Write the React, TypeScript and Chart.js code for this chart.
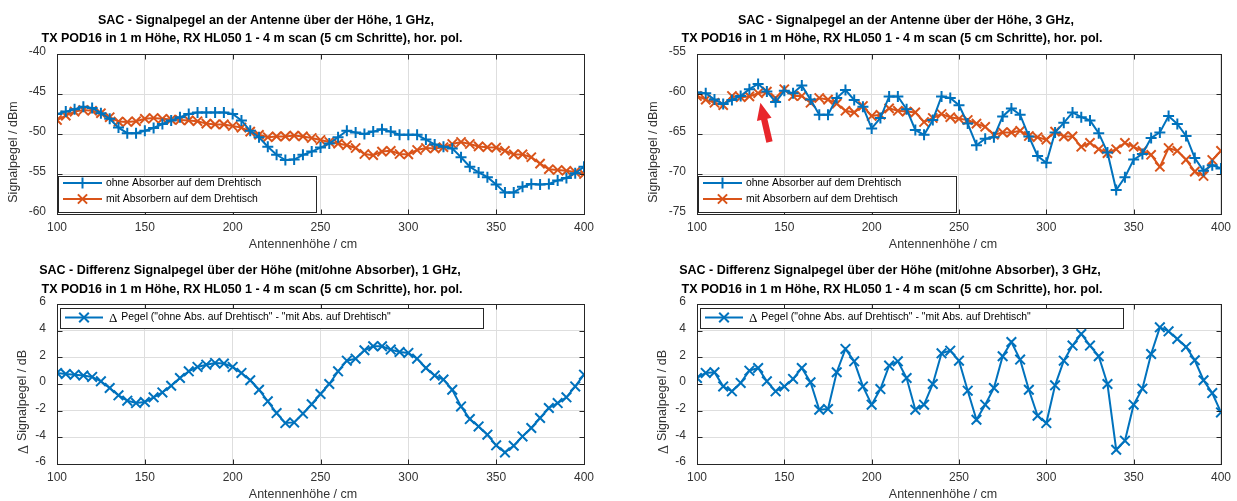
import React, { useEffect, useRef } from 'react';
import { Chart, registerables } from 'chart.js';

Chart.register(...registerables);

// ---------- data ----------
const heights = [100, 105, 110, 115, 120, 125, 130, 135, 140, 145, 150, 155, 160, 165, 170, 175, 180, 185, 190, 195, 200, 205, 210, 215, 220, 225, 230, 235, 240, 245, 250, 255, 260, 265, 270, 275, 280, 285, 290, 295, 300, 305, 310, 315, 320, 325, 330, 335, 340, 345, 350, 355, 360, 365, 370, 375, 380, 385, 390, 395, 400];

const ohne1GHz = [-47.5, -47.2, -46.9, -46.6, -46.75, -47.4, -48.1, -49.2, -49.9, -49.9, -49.6, -49.25, -48.75, -48.3, -47.9, -47.5, -47.3, -47.3, -47.3, -47.3, -47.5, -48.3, -49.6, -50.4, -51.6, -52.6, -53.25, -53.2, -52.6, -52.2, -51.7, -51.2, -50.4, -49.6, -49.8, -50.0, -49.7, -49.4, -49.7, -50.1, -50.1, -50.1, -50.7, -51.3, -51.6, -51.8, -52.9, -54.1, -54.8, -55.4, -56.3, -57.3, -57.3, -56.6, -56.25, -56.3, -56.25, -55.8, -55.5, -54.9, -54.1];

const mit1GHz = [-48.25, -47.7, -47.2, -47.0, -47.1, -47.4, -47.9, -48.45, -48.5, -48.4, -48.1, -48.0, -48.1, -48.2, -48.25, -48.3, -48.4, -48.7, -48.8, -48.8, -49.0, -49.2, -49.7, -50.1, -50.4, -50.3, -50.3, -50.2, -50.3, -50.5, -50.75, -51.0, -51.2, -51.4, -51.75, -52.5, -52.65, -52.2, -52.1, -52.5, -52.55, -52.0, -51.75, -51.8, -51.65, -51.25, -51.0, -51.25, -51.55, -51.65, -51.7, -52.1, -52.55, -52.55, -52.9, -53.7, -54.4, -54.5, -54.6, -54.75, -55.0];

const ohne3GHz = [-59.8, -59.9, -60.7, -61.25, -60.75, -60.25, -59.4, -58.75, -59.7, -61.0, -59.6, -59.9, -58.95, -60.7, -62.6, -62.6, -60.5, -59.5, -60.75, -61.6, -64.3, -63.0, -60.3, -60.3, -61.9, -64.5, -65.1, -63.25, -60.3, -60.5, -61.4, -63.7, -66.4, -65.6, -65.4, -62.8, -61.8, -62.6, -65.3, -67.75, -68.6, -64.8, -63.6, -62.3, -62.9, -63.3, -64.9, -67.3, -72.0, -70.4, -68.2, -67.5, -65.5, -64.8, -62.75, -63.75, -65.25, -68.0, -69.6, -68.9, -69.3];

const mit3GHz = [-60.25, -60.7, -61.1, -61.4, -60.25, -60.4, -60.3, -59.9, -59.7, -60.5, -59.4, -60.25, -60.25, -61.1, -60.5, -60.7, -61.2, -62.1, -62.3, -61.5, -62.75, -62.6, -61.8, -62.1, -62.2, -62.3, -63.5, -63.0, -62.5, -62.9, -63.1, -63.25, -63.7, -64.1, -65.1, -64.8, -64.8, -64.6, -65.25, -65.4, -65.7, -64.7, -65.3, -65.3, -66.6, -66.1, -66.9, -67.4, -66.9, -66.1, -66.6, -67.1, -67.6, -69.1, -66.75, -67.1, -68.2, -69.7, -70.25, -68.25, -67.1];

const delta1GHz = [0.83, 0.75, 0.7, 0.63, 0.53, 0.2, -0.3, -0.85, -1.25, -1.43, -1.35, -1.0, -0.63, -0.13, 0.45, 0.95, 1.28, 1.45, 1.58, 1.53, 1.28, 0.83, 0.28, -0.43, -1.3, -2.18, -2.93, -2.88, -2.22, -1.52, -0.75, 0.0, 0.95, 1.75, 1.9, 2.53, 2.83, 2.83, 2.58, 2.4, 2.33, 1.9, 1.2, 0.63, 0.33, -0.43, -1.68, -2.63, -3.18, -3.8, -4.6, -5.13, -4.63, -3.93, -3.3, -2.55, -1.8, -1.43, -1.0, -0.18, 0.7];

const delta3GHz = [0.45, 0.83, 0.88, -0.18, -0.55, 0.08, 1.0, 1.2, 0.2, -0.55, -0.18, 0.38, 1.2, 0.13, -1.93, -1.88, 0.88, 2.63, 1.7, -0.18, -1.55, -0.38, 1.38, 1.7, 0.45, -1.93, -1.55, 0.0, 2.3, 2.5, 1.75, -0.5, -2.68, -1.55, -0.3, 2.08, 3.15, 1.83, -0.43, -2.38, -2.93, -0.1, 1.75, 2.88, 3.75, 2.88, 2.08, 0.0, -4.93, -4.25, -1.55, -0.35, 2.25, 4.25, 3.95, 3.38, 2.78, 1.78, 0.28, -0.68, -2.13];

const xTicks = [100, 150, 200, 250, 300, 350, 400];
const yTicksTop1 = [-60, -55, -50, -45, -40];
const yTicksTop3 = [-75, -70, -65, -60, -55];
const yTicksDelta = [-6, -4, -2, 0, 2, 4, 6];

const labelOhne = 'ohne Absorber auf dem Drehtisch';
const labelMit = 'mit Absorbern auf dem Drehtisch';
const labelDelta = 'Pegel ("ohne Abs. auf Drehtisch" - "mit Abs. auf Drehtisch"';

const titleTop1 = ['SAC - Signalpegel an der Antenne über der Höhe, 1 GHz,', 'TX POD16 in 1 m Höhe, RX HL050 1 - 4 m scan (5 cm Schritte), hor. pol.'];
const titleTop3 = ['SAC - Signalpegel an der Antenne über der Höhe, 3 GHz,', 'TX POD16 in 1 m Höhe, RX HL050 1 - 4 m scan (5 cm Schritte), hor. pol.'];
const titleBot1 = ['SAC - Differenz Signalpegel über der Höhe (mit/ohne Absorber), 1 GHz,', 'TX POD16 in 1 m Höhe, RX HL050 1 - 4 m scan (5 cm Schritte), hor. pol.'];
const titleBot3 = ['SAC - Differenz Signalpegel über der Höhe (mit/ohne Absorber), 3 GHz,', 'TX POD16 in 1 m Höhe, RX HL050 1 - 4 m scan (5 cm Schritte), hor. pol.'];

const xTitle = 'Antennenhöhe / cm';
const yTitleLevel = 'Signalpegel / dBm';
const yTitleDelta = 'Signalpegel / dB';

// annotation arrow on 3 GHz plot (data units): tail -> tip
const arrowTail = { x: 141.5, y: -66.0 };
const arrowTip = { x: 136.3, y: -61.1 };

// ---------- style ----------
const BLUE = '#0072BD';
const ORANGE = '#D95319';
const AXIS = '#262626';
const TEXT = '#333333';
const GRID = '#dedede';
const SANS = '"Liberation Sans", Arial, sans-serif';
const SERIF = '"Liberation Serif", "DejaVu Serif", serif';

function drawMarker(ctx: CanvasRenderingContext2D, style: string, x: number, y: number, r: number) {
  ctx.beginPath();
  if (style === 'cross') {
    ctx.moveTo(x - r, y); ctx.lineTo(x + r, y);
    ctx.moveTo(x, y - r); ctx.lineTo(x, y + r);
  } else {
    const d = r * 0.7071;
    ctx.moveTo(x - d, y - d); ctx.lineTo(x + d, y + d);
    ctx.moveTo(x - d, y + d); ctx.lineTo(x + d, y - d);
  }
  ctx.stroke();
}

const decorPlugin = {
  id: 'decor',
  afterDatasetsDraw(chart: any, _args: any, opts: any) {
    const { ctx, chartArea: a } = chart;
    const xs = chart.scales.x, ys = chart.scales.y;
    ctx.save();
    // arrow annotation
    if (opts.arrow) {
      const tx = xs.getPixelForValue(opts.arrow.tip.x), ty = ys.getPixelForValue(opts.arrow.tip.y);
      const sx = xs.getPixelForValue(opts.arrow.tail.x), sy = ys.getPixelForValue(opts.arrow.tail.y);
      const ang = Math.atan2(ty - sy, tx - sx);
      const len = Math.hypot(tx - sx, ty - sy);
      ctx.translate(sx, sy);
      ctx.rotate(ang);
      ctx.fillStyle = '#e8262b';
      const hl = 17, hw = 7.5, sw = 3.2;
      ctx.beginPath();
      ctx.moveTo(0, -sw); ctx.lineTo(len - hl, -sw); ctx.lineTo(len - hl, -hw);
      ctx.lineTo(len, 0);
      ctx.lineTo(len - hl, hw); ctx.lineTo(len - hl, sw); ctx.lineTo(0, sw);
      ctx.closePath();
      ctx.fill();
      ctx.setTransform(1, 0, 0, 1, 0, 0);
    }
    // box + inward ticks
    ctx.strokeStyle = AXIS;
    ctx.lineWidth = 1;
    const L = Math.round(a.left) + 0.5, R = Math.round(a.right) + 0.5;
    const T = Math.round(a.top) + 0.5, B = Math.round(a.bottom) + 0.5;
    ctx.strokeRect(L, T, R - L, B - T);
    ctx.beginPath();
    xs.ticks.forEach((t: any) => {
      const p = Math.round(xs.getPixelForValue(t.value)) + 0.5;
      ctx.moveTo(p, B); ctx.lineTo(p, B - 5);
      ctx.moveTo(p, T); ctx.lineTo(p, T + 5);
    });
    ys.ticks.forEach((t: any) => {
      const p = Math.round(ys.getPixelForValue(t.value)) + 0.5;
      ctx.moveTo(L, p); ctx.lineTo(L + 5, p);
      ctx.moveTo(R, p); ctx.lineTo(R - 5, p);
    });
    ctx.stroke();
    // legend
    const lg = opts.legend;
    if (lg) {
      const bx = Math.round(a.left + lg.dx) + 0.5, by = Math.round(a.top + lg.dy) + 0.5;
      ctx.fillStyle = '#ffffff';
      ctx.fillRect(bx, by, lg.w, lg.h);
      ctx.strokeStyle = AXIS;
      ctx.lineWidth = 1;
      ctx.strokeRect(bx, by, lg.w, lg.h);
      lg.items.forEach((it: any, i: number) => {
        const ds = chart.data.datasets[i];
        const cy = a.top + it.dy;
        const x0 = a.left + lg.lineX0, x1 = a.left + lg.lineX1;
        ctx.strokeStyle = ds.borderColor;
        ctx.lineWidth = 2;
        ctx.beginPath(); ctx.moveTo(x0, cy); ctx.lineTo(x1, cy); ctx.stroke();
        ctx.lineWidth = ds.pointBorderWidth;
        drawMarker(ctx, ds.pointStyle, (x0 + x1) / 2, cy, ds.pointRadius);
        ctx.fillStyle = '#000000';
        ctx.textBaseline = 'middle';
        ctx.textAlign = 'left';
        let tx = a.left + lg.textX;
        if (it.delta) {
          ctx.font = `13px ${SERIF}`;
          ctx.fillText('\u0394', tx, cy + 1);
          tx += ctx.measureText('\u0394').width + 4;
        }
        ctx.font = `10.4px ${SANS}`;
        ctx.fillText(ds.label, tx, cy);
      });
    }
    ctx.restore();
  },
  afterDraw(chart: any, _args: any, opts: any) {
    const { ctx, chartArea: a } = chart;
    ctx.save();
    // titles
    ctx.fillStyle = '#000000';
    ctx.textAlign = 'center';
    ctx.textBaseline = 'middle';
    ctx.font = `bold 12.5px ${SANS}`;
    opts.title.forEach((line: string, i: number) => {
      ctx.fillText(line, a.left + opts.titleDx[i], opts.titleY[i]);
    });
    // x title
    ctx.fillStyle = TEXT;
    ctx.font = `12.5px ${SANS}`;
    ctx.fillText(opts.xTitle, a.left + 246, 245);
    // y title (rotated)
    ctx.translate(opts.yTitleX, 152);
    ctx.rotate(-Math.PI / 2);
    ctx.textAlign = 'left';
    ctx.font = `12.5px ${SANS}`;
    const tw = ctx.measureText(opts.yTitle).width;
    let dw = 0;
    if (opts.yDelta) {
      ctx.font = `14px ${SERIF}`;
      dw = ctx.measureText('\u0394').width + 4;
    }
    let x = -(tw + dw) / 2;
    if (opts.yDelta) {
      ctx.font = `14px ${SERIF}`;
      ctx.fillText('\u0394', x, 1);
      x += dw;
    }
    ctx.font = `12.5px ${SANS}`;
    ctx.fillText(opts.yTitle, x, 0);
    ctx.restore();
  },
};

type PanelProps = {
  left: number; top: number; width: number; height: number;
  datasets: any[]; yMin: number; yMax: number; yStep: number;
  xHeight: number; rightPad: number; decor: any;
};

function Panel(p: PanelProps) {
  const ref = useRef<HTMLCanvasElement | null>(null);
  useEffect(() => {
    if (!ref.current) return;
    const chart = new Chart(ref.current, {
      type: 'line',
      data: { datasets: p.datasets },
      plugins: [decorPlugin],
      options: {
        animation: false,
        responsive: false,
        devicePixelRatio: 1,
        layout: { padding: { left: 0, right: p.rightPad, top: 54, bottom: 0 } },
        plugins: {
          legend: { display: false },
          title: { display: false },
          tooltip: { enabled: false },
          decor: p.decor,
        } as any,
        scales: {
          x: {
            type: 'linear',
            min: 100, max: 400,
            afterBuildTicks: (s: any) => { s.ticks = xTicks.map((v) => ({ value: v })); },
            afterFit: (s: any) => { s.height = p.xHeight; },
            grid: { color: GRID, lineWidth: 1, drawTicks: false },
            border: { display: false },
            ticks: { color: TEXT, font: { family: SANS, size: 12 }, padding: 6, maxRotation: 0, autoSkip: false },
          },
          y: {
            type: 'linear',
            min: p.yMin, max: p.yMax,
            ticks: { stepSize: p.yStep, color: TEXT, font: { family: SANS, size: 12 }, padding: 11, labelOffset: -2 },
            afterFit: (s: any) => { s.width = 57; },
            grid: { color: GRID, lineWidth: 1, drawTicks: false },
            border: { display: false },
          },
        },
      } as any,
    });
    return () => chart.destroy();
  }, []);
  return (
    <canvas
      ref={ref}
      width={p.width}
      height={p.height}
      style={{ position: 'absolute', left: p.left, top: p.top, width: p.width, height: p.height }}
    />
  );
}

function series(label: string, values: number[], color: string, style: string, r: number) {
  return {
    label,
    data: heights.map((h, i) => ({ x: h, y: values[i] })),
    borderColor: color,
    backgroundColor: color,
    borderWidth: 2,
    pointStyle: style,
    pointRadius: r,
    pointBorderWidth: 2,
    pointBorderColor: color,
    pointBackgroundColor: color,
    tension: 0,
  };
}

const legendTop = {
  dx: 1, dy: 122, w: 258, h: 36, lineX0: 6, lineX1: 45, textX: 49,
  items: [{ dy: 129 }, { dy: 145 }],
};
const legendBottom = {
  dx: 3, dy: 4, w: 423, h: 20, lineX0: 8, lineX1: 46, textX: 52,
  items: [{ dy: 13.5, delta: true }],
};

export default function App() {
  const yTop1 = { min: yTicksTop1[0], max: yTicksTop1[yTicksTop1.length - 1], step: yTicksTop1[1] - yTicksTop1[0] };
  const yTop3 = { min: yTicksTop3[0], max: yTicksTop3[yTicksTop3.length - 1], step: yTicksTop3[1] - yTicksTop3[0] };
  const yDel = { min: yTicksDelta[0], max: yTicksDelta[yTicksDelta.length - 1], step: yTicksDelta[1] - yTicksDelta[0] };
  return (
    <div style={{ position: 'absolute', left: 0, top: 0, width: 1237, height: 501, background: '#fff' }}>
      <Panel
        left={0} top={0} width={620} height={250} xHeight={36} rightPad={36}
        yMin={yTop1.min} yMax={yTop1.max} yStep={yTop1.step}
        datasets={[series(labelOhne, ohne1GHz, BLUE, 'cross', 5.5), series(labelMit, mit1GHz, ORANGE, 'crossRot', 6.5)]}
        decor={{ title: titleTop1, titleDx: [209, 195], titleY: [21, 39], xTitle, yTitle: yTitleLevel, yTitleX: 14, legend: legendTop }}
      />
      <Panel
        left={640} top={0} width={597} height={250} xHeight={36} rightPad={12}
        yMin={yTop3.min} yMax={yTop3.max} yStep={yTop3.step}
        datasets={[series(labelOhne, ohne3GHz, BLUE, 'cross', 5.5), series(labelMit, mit3GHz, ORANGE, 'crossRot', 6.5)]}
        decor={{ title: titleTop3, titleDx: [209, 195], titleY: [21, 39], xTitle, yTitle: yTitleLevel, yTitleX: 14, legend: legendTop, arrow: { tail: arrowTail, tip: arrowTip } }}
      />
      <Panel
        left={0} top={250} width={620} height={251} xHeight={37} rightPad={36}
        yMin={yDel.min} yMax={yDel.max} yStep={yDel.step}
        datasets={[series(labelDelta, delta1GHz, BLUE, 'crossRot', 6.8)]}
        decor={{ title: titleBot1, titleDx: [193, 195], titleY: [21, 40], xTitle, yTitle: yTitleDelta, yDelta: true, yTitleX: 23, legend: legendBottom }}
      />
      <Panel
        left={640} top={250} width={597} height={251} xHeight={37} rightPad={12}
        yMin={yDel.min} yMax={yDel.max} yStep={yDel.step}
        datasets={[series(labelDelta, delta3GHz, BLUE, 'crossRot', 6.8)]}
        decor={{ title: titleBot3, titleDx: [193, 195], titleY: [21, 40], xTitle, yTitle: yTitleDelta, yDelta: true, yTitleX: 23, legend: legendBottom }}
      />
    </div>
  );
}
